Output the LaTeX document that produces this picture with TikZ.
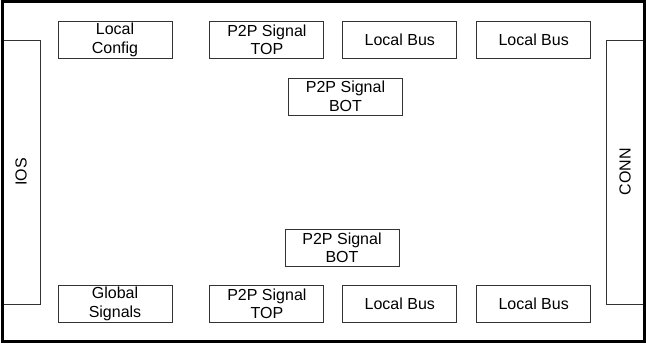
\documentclass[tikz,border=0pt]{standalone}
\usepackage{fontspec}
\setmainfont{Liberation Sans}
\usepackage{tikz}
\usetikzlibrary{positioning}
\definecolor{Edge}{HTML}{333333}

\begin{document}
\begin{tikzpicture}[
      x=1pt,y=-1pt,
      node distance=18pt,
      block/.style={draw=Edge,line width=0.9pt,align=center,inner sep=0pt,
        minimum width=114pt,minimum height=37pt,
        font=\fontsize{16}{18.5}\selectfont},
      side/.style={draw=Edge,line width=0.9pt,inner sep=0pt,
        minimum width=38pt,minimum height=264pt},
      sidelabel/.style={rotate=90,font=\fontsize{16}{18.5}\selectfont},
      frame/.style={draw=black,line width=3pt}
    ]
      \useasboundingbox (0,0) rectangle (646,344);
      % side connectors
      \node[side] (ios) at (21,172) {};
      \node[sidelabel] (iostext) at (ios.center) {IOS};
      \node[side] (conn) at (625,172) {};
      \node[sidelabel] (conntext) at (conn.center) {CONN};
      % top row
      \node[block] (config) at (115,40) {Local\\Config};
      \node[block,right=37pt of config] (toptop) {P2P Signal\\TOP};
      \node[block,right=of toptop] (topbusa) {Local Bus};
      \node[block,right=19pt of topbusa] (topbusb) {Local Bus};
      \node[block] (topbot) at (345.5,96.5) {P2P Signal\\BOT};
      % bottom row
      \node[block] (global) at (115,304) {Global\\Signals};
      \node[block,right=37pt of global] (bottop) {P2P Signal\\TOP};
      \node[block,right=of bottop] (botbusa) {Local Bus};
      \node[block,right=19pt of botbusa] (botbusb) {Local Bus};
      \node[block] (botbot) at (342,248) {P2P Signal\\BOT};
      % outer frame
      \draw[frame] (2,2) rectangle (644,342);
    \end{tikzpicture}
\end{document}
